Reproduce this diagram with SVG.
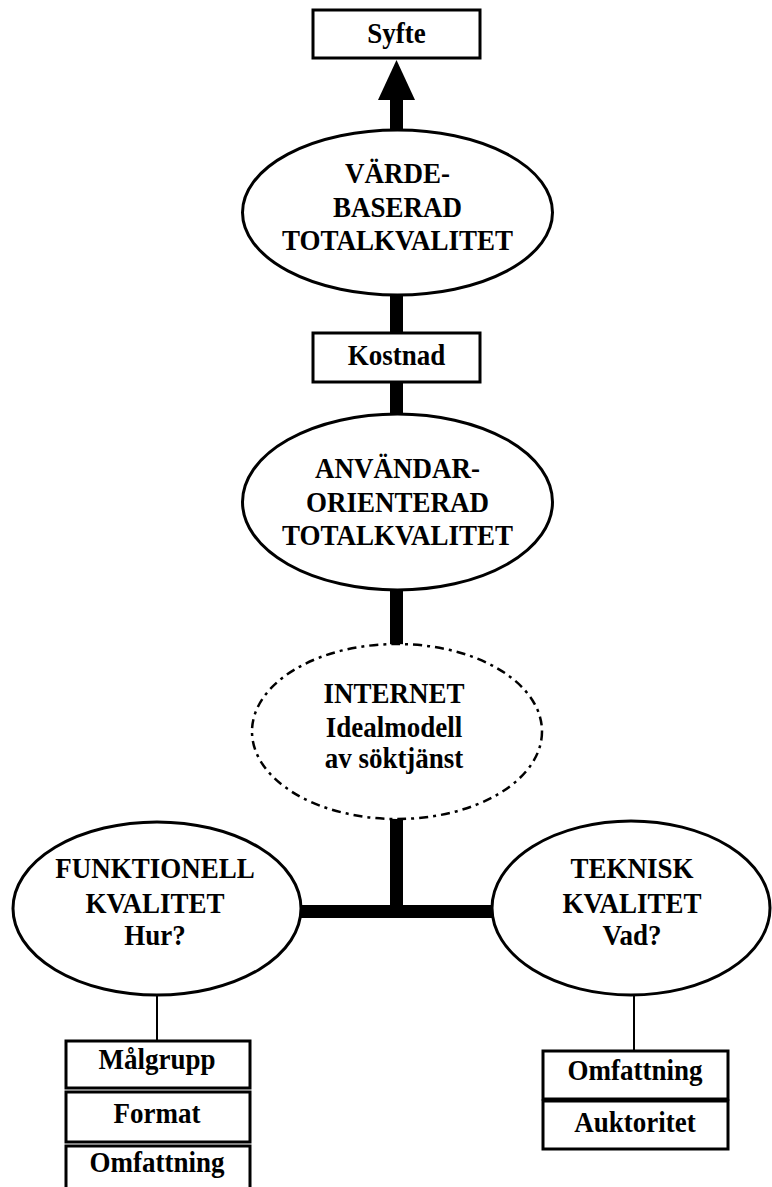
<svg xmlns="http://www.w3.org/2000/svg" width="772" height="1187" viewBox="0 0 772 1187">
<style>
text{font-family:"Liberation Serif","Times New Roman",serif;font-weight:bold;font-size:30px;fill:#000;text-anchor:middle}
.box{fill:#fff;stroke:#000;stroke-width:3}
.ell{fill:#fff;stroke:#000;stroke-width:3}
.dash{fill:#fff;stroke:#000;stroke-width:2.5;stroke-dasharray:9 5 3 5}
.bar{stroke:#000;stroke-width:13;fill:none}
.thin{stroke:#000;stroke-width:2;fill:none}
</style>
<rect width="772" height="1187" fill="#fff"/>
<g id="connectors">
<line class="bar" x1="396.5" y1="98" x2="396.5" y2="132"/>
<polygon points="396.5,60 378,100 415,100" fill="#000"/>
<line class="bar" x1="396.5" y1="293" x2="396.5" y2="334"/>
<line class="bar" x1="396.5" y1="381" x2="396.5" y2="416"/>
<line class="bar" x1="396.5" y1="588" x2="396.5" y2="646"/>
<line class="bar" x1="396.5" y1="817" x2="396.5" y2="911"/>
<line class="bar" x1="300" y1="911.5" x2="494" y2="911.5"/>
<line class="thin" x1="157" y1="994" x2="157" y2="1041"/>
<line class="thin" x1="634" y1="994" x2="634" y2="1051"/>
</g>
<g id="syfte">
<rect class="box" x="313" y="10" width="167" height="48"/>
<g transform="translate(396.5 0) scale(0.9 1)"><text x="0" y="43">Syfte</text></g>
</g>
<g id="vardebaserad">
<ellipse class="ell" cx="397.5" cy="212.5" rx="155" ry="82.5"/>
<g transform="translate(397.5 0) scale(0.9 1)">
<text x="0" y="183">VÄRDE-</text>
<text x="0" y="217">BASERAD</text>
<text x="0" y="250">TOTALKVALITET</text>
</g>
</g>
<g id="kostnad">
<rect class="box" x="313" y="333" width="167" height="49"/>
<g transform="translate(396.5 0) scale(0.9 1)"><text x="0" y="365">Kostnad</text></g>
</g>
<g id="anvandarorienterad">
<ellipse class="ell" cx="397.5" cy="502" rx="155" ry="88"/>
<g transform="translate(397.5 0) scale(0.9 1)">
<text x="0" y="478">ANVÄNDAR-</text>
<text x="0" y="512">ORIENTERAD</text>
<text x="0" y="545">TOTALKVALITET</text>
</g>
</g>
<g id="internet">
<ellipse class="dash" cx="397" cy="731.5" rx="145" ry="87.5"/>
<g transform="translate(394 0) scale(0.9 1)">
<text x="0" y="703">INTERNET</text>
<text x="0" y="737">Idealmodell</text>
<text x="0" y="768">av söktjänst</text>
</g>
</g>
<g id="funktionell">
<ellipse class="ell" cx="157" cy="908.5" rx="144" ry="86.5"/>
<g transform="translate(155 0) scale(0.9 1)">
<text x="0" y="878">FUNKTIONELL</text>
<text x="0" y="913">KVALITET</text>
<text x="0" y="945">Hur?</text>
</g>
</g>
<g id="teknisk">
<ellipse class="ell" cx="631" cy="908" rx="139" ry="87"/>
<g transform="translate(632 0) scale(0.9 1)">
<text x="0" y="878">TEKNISK</text>
<text x="0" y="913">KVALITET</text>
<text x="0" y="945">Vad?</text>
</g>
</g>
<g id="malgrupp">
<rect class="box" x="66" y="1041" width="184" height="47"/>
<g transform="translate(157 0) scale(0.9 1)"><text x="0" y="1069">Målgrupp</text></g>
</g>
<g id="format">
<rect class="box" x="66" y="1092" width="184" height="50"/>
<g transform="translate(157 0) scale(0.9 1)"><text x="0" y="1123">Format</text></g>
</g>
<g id="omfattning-f">
<rect class="box" x="66" y="1146" width="184" height="50"/>
<g transform="translate(157 0) scale(0.9 1)"><text x="0" y="1172">Omfattning</text></g>
</g>
<g id="omfattning-t">
<rect class="box" x="543" y="1051" width="185" height="48"/>
<g transform="translate(635 0) scale(0.9 1)"><text x="0" y="1080">Omfattning</text></g>
</g>
<g id="auktoritet">
<rect class="box" x="543" y="1101" width="185" height="48"/>
<g transform="translate(635 0) scale(0.9 1)"><text x="0" y="1132">Auktoritet</text></g>
</g>
</svg>
